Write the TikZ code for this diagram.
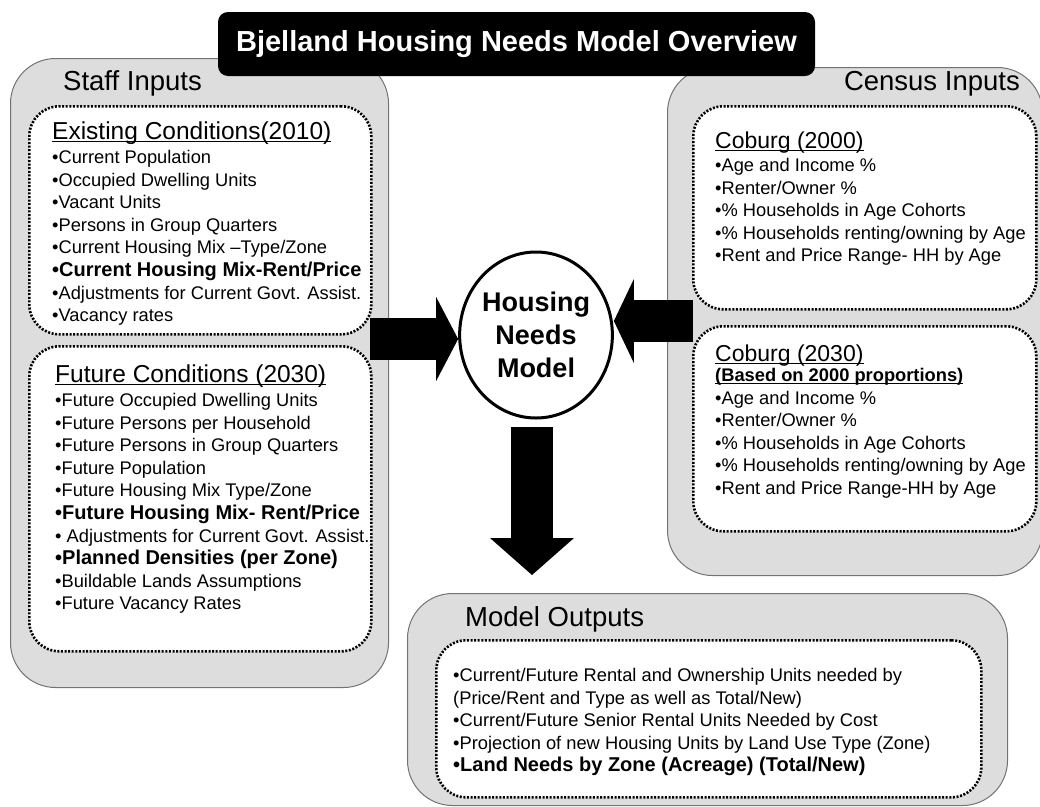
\documentclass[tikz,border=0pt]{standalone}
\usepackage{fontspec}
\setmainfont{Liberation Sans}
\usetikzlibrary{shapes.geometric,arrows.meta}

\definecolor{panelgray}{RGB}{221,221,221}
\definecolor{panelline}{RGB}{115,115,115}

% underline at a fixed depth, as in the heads
\newcommand{\hdul}[1]{\setbox0\hbox{#1}\rlap{\rule[-3pt]{\wd0}{1.5pt}}\box0}
\newcommand{\bline}[1]{{\fontsize{20}{22.6}\selectfont\bfseries #1}}

\begin{document}
\begin{tikzpicture}[x=1pt,y=-1pt,
	panel/.style={draw=panelline, line width=1pt, fill=panelgray, rounded corners=45pt, anchor=north west, inner sep=0pt},
	dotbox/.style={draw=black, fill=white, line width=2.6pt, dash pattern=on 2pt off 1.6pt, rounded corners=30pt, anchor=north west, inner sep=0pt},
	paneltitle/.style={inner sep=0pt, font=\fontsize{27.5}{33}\selectfont},
	boxhead/.style={inner sep=0pt, anchor=base west, font=\fontsize{24.5}{29}\selectfont},
	body/.style={inner sep=0pt, anchor=north west, align=left, font=\fontsize{18.3}{22.6}\selectfont},
	bigarrow/.style={line width=42pt, -{Triangle[length=#1 0, width=84pt 0, line width=0pt]}},
	bigarrow/.default=22pt]
	\useasboundingbox (0,0) rectangle (1040,806);

	% grey panels
	\node[panel, minimum width=378pt, minimum height=629pt] (staff) at (10,58) {};
	\node[panel, minimum width=375pt, minimum height=508pt] (census) at (667,67) {};
	\node[panel, minimum width=600pt, minimum height=212pt] (outputs) at (407,593) {};

	% dotted boxes
	\node[dotbox, minimum width=342pt, minimum height=228pt] (exist) at (28,105) {};
	\node[dotbox, minimum width=342pt, minimum height=305pt] (future) at (28,345) {};
	\node[dotbox, minimum width=343pt, minimum height=203pt] (cob00) at (692,105) {};
	\node[dotbox, minimum width=343pt, minimum height=205pt] (cob30) at (692,325) {};
	\node[dotbox, minimum width=545pt, minimum height=157pt] (outbox) at (435,639) {};

	\node[paneltitle, anchor=base west] (staffhd) at (63,90) {Staff Inputs};
	\node[paneltitle, anchor=base east] (censushd) at (1020,90) {Census Inputs};
	\node[paneltitle, anchor=base west] (outhd) at (465,626) {Model Outputs};

	\node[boxhead] (existhd) at (52,139) {\hdul{Existing Conditions(2010)}};
	\node[body] (existlist) at (52,150) {•Current Population\\
		•Occupied Dwelling Units\\
		•Vacant Units\\
		•Persons in Group Quarters\\
		•Current Housing Mix –Type/Zone\\
		\bline{•Current Housing Mix-Rent/Price}\\
		•Adjustments for Current Govt. Assist.\\
		•Vacancy rates};

	\node[boxhead] (futurehd) at (55,382) {\hdul{Future Conditions (2030)}};
	\node[body] (futurelist) at (55,393) {•Future Occupied Dwelling Units\\
		•Future Persons per Household\\
		•Future Persons in Group Quarters\\
		•Future Population\\
		•Future Housing Mix Type/Zone\\
		\bline{•Future Housing Mix- Rent/Price}\\
		• Adjustments for Current Govt. Assist.\\
		\bline{•Planned Densities (per Zone)}\\
		•Buildable Lands Assumptions\\
		•Future Vacancy Rates};

	\node[boxhead, font=\fontsize{23}{28}\selectfont] (cob00hd) at (715,148) {\hdul{Coburg (2000)}};
	\node[body] (cob00list) at (715,158) {•Age and Income \%\\
		•Renter/Owner \%\\
		•\% Households in Age Cohorts\\
		•\% Households renting/owning by Age\\
		•Rent and Price Range- HH by Age};

	\node[boxhead, font=\fontsize{23}{28}\selectfont] (cob30hd) at (715,361) {\hdul{Coburg (2030)}};
	\node[body] (cob30list) at (715,368) {\textbf{\hdul{(Based on 2000 proportions)}}\\
		•Age and Income \%\\
		•Renter/Owner \%\\
		•\% Households in Age Cohorts\\
		•\% Households renting/owning by Age\\
		•Rent and Price Range-HH by Age};

	\node[body] (outlist) at (453,668) {•Current/Future Rental and Ownership Units needed by\\
		(Price/Rent and Type as well as Total/New)\\
		•Current/Future Senior Rental Units Needed by Cost\\
		•Projection of new Housing Units by Land Use Type (Zone)\\
		\bline{•Land Needs by Zone (Acreage) (Total/New)}};

	% the model
	\node[ellipse, draw, line width=3pt, fill=white, minimum width=148pt, minimum height=166pt, inner sep=0pt, align=center,
		font=\fontsize{27}{33}\selectfont\bfseries] (hnm) at (536,335) {Housing\\Needs\\Model};

	\coordinate (lin) at (370,339);
	\coordinate (rin) at (693,321);
	\coordinate (dtop) at (532,427);
	\coordinate (dout) at (532,575);
	\draw[bigarrow=22pt] (lin) -- (hnm.west |- lin);
	\draw[bigarrow=20pt] (rin) -- (hnm.east |- rin);
	\draw[bigarrow=37pt] (dtop) -- (dout);

	\node[fill=black, rounded corners=10pt, minimum width=597pt, minimum height=64pt, inner sep=0pt, text=white,
		font=\fontsize{29}{34}\selectfont\bfseries] (title) at (516.5,44) {Bjelland Housing Needs Model Overview};
\end{tikzpicture}
\end{document}
